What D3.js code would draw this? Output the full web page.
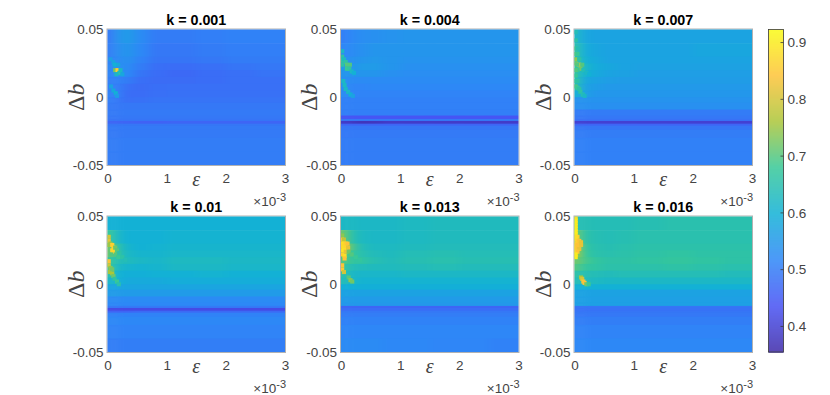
<!DOCTYPE html>
<html>
<head>
  <meta charset="utf-8">
  <title>Heatmaps over epsilon and delta b</title>
  <style>
    body { margin: 0; background: #fff; }
    text { font-family: "Liberation Sans", Arial, sans-serif; }
    .axis text { font-size: 13.5px; fill: #444; }
    .title { font-size: 14.3px; font-weight: bold; fill: #000; text-anchor: middle; }
    .mathtext { font-family: "Liberation Serif", serif; fill: #444; text-anchor: middle; }
    .expo { font-size: 13.5px; fill: #444; text-anchor: end; }
  </style>
</head>
<body>
  <script src="https://cdn.jsdelivr.net/npm/d3@7"></script>
  <script>
    // tick labels and panel names
    var kLabels = ["k = 0.001", "k = 0.004", "k = 0.007", "k = 0.01", "k = 0.013", "k = 0.016"];
    var epsTicks = [0, 1, 2, 3];
    var dbTicks = [-0.05, 0, 0.05];
    var dbTickLabels = ["-0.05", "0", "0.05"];
    var cbTicks = [0.4, 0.5, 0.6, 0.7, 0.8, 0.9];

    // colour range
    var cbDomain = [0.355, 0.923];
    var parula = ["#3e2aa8", "#4752f4", "#2e87f7", "#12b1d6", "#37c897", "#abc639", "#fec338", "#f9fb15"];

    // cell edges of the value grids (eps in units of 1e-3)
    var epsEdges = [0, 0.1, 0.25, 0.45, 0.7, 1, 1.5, 2, 2.5, 3];
    var dbEdges = [0.05, 0.04, 0.03, 0.025, 0.02, 0.015, 0.01, 0.005, 0, -0.004, -0.009, -0.0135, -0.016, -0.0175, -0.0195, -0.021, -0.024, -0.03, -0.04, -0.05];

    // background values, one line per db row, one value per eps column
    var grid001 = [
      [.495, .54, .555, .525, .50, .50, .505, .51, .51],
      [.50, .53, .545, .52, .495, .495, .50, .505, .505],
      [.505, .525, .535, .51, .49, .49, .495, .50, .50],
      [.515, .535, .525, .50, .48, .478, .482, .49, .495],
      [.51, .535, .52, .49, .478, .472, .478, .482, .488],
      [.505, .51, .50, .48, .476, .476, .478, .482, .482],
      [.505, .505, .482, .476, .48, .482, .482, .482, .482],
      [.51, .505, .478, .478, .482, .484, .484, .484, .484],
      [.505, .495, .482, .484, .488, .488, .488, .488, .488],
      [.498, .494, .494, .494, .494, .494, .494, .494, .494],
      [.498, .498, .498, .498, .498, .498, .498, .498, .498],
      [.494, .494, .494, .494, .494, .494, .494, .494, .494],
      [.49, .49, .49, .49, .49, .49, .49, .49, .49],
      [.465, .465, .465, .46, .46, .465, .465, .465, .465],
      [.492, .492, .492, .492, .492, .492, .492, .492, .492],
      [.498, .498, .498, .498, .498, .498, .498, .498, .498],
      [.498, .498, .498, .498, .498, .498, .498, .498, .498],
      [.502, .502, .502, .502, .502, .502, .502, .502, .502],
      [.502, .502, .502, .502, .502, .502, .502, .502, .502]
    ];
    var grid004 = [
      [.505, .52, .53, .535, .54, .545, .545, .545, .545],
      [.515, .525, .535, .545, .545, .545, .545, .545, .545],
      [.535, .535, .545, .55, .545, .54, .54, .54, .54],
      [.555, .545, .555, .555, .545, .535, .535, .535, .535],
      [.545, .545, .545, .545, .535, .53, .53, .53, .53],
      [.535, .525, .525, .525, .525, .525, .525, .525, .525],
      [.53, .515, .515, .52, .52, .52, .52, .52, .52],
      [.53, .515, .512, .512, .512, .512, .512, .512, .512],
      [.508, .508, .508, .508, .508, .508, .508, .508, .508],
      [.508, .508, .508, .508, .508, .508, .508, .508, .508],
      [.505, .505, .505, .505, .505, .505, .505, .505, .505],
      [.44, .44, .44, .44, .44, .44, .44, .44, .44],
      [.495, .495, .495, .495, .495, .495, .495, .495, .495],
      [.39, .385, .375, .38, .39, .39, .39, .39, .39],
      [.465, .465, .465, .465, .465, .465, .465, .465, .465],
      [.492, .492, .492, .492, .492, .492, .492, .492, .492],
      [.498, .498, .498, .498, .498, .498, .498, .498, .498],
      [.502, .502, .502, .502, .502, .502, .502, .502, .502],
      [.502, .502, .502, .502, .502, .502, .502, .502, .502]
    ];
    var grid007 = [
      [.62, .58, .572, .572, .572, .572, .572, .572, .572],
      [.65, .59, .578, .572, .572, .572, .572, .578, .578],
      [.66, .60, .585, .572, .572, .572, .572, .572, .572],
      [.67, .62, .59, .58, .572, .568, .568, .568, .568],
      [.66, .60, .585, .572, .568, .562, .562, .562, .562],
      [.65, .58, .57, .562, .558, .558, .558, .558, .558],
      [.64, .57, .56, .552, .552, .552, .552, .552, .552],
      [.60, .57, .548, .548, .548, .548, .548, .548, .548],
      [.54, .54, .54, .54, .54, .54, .54, .54, .54],
      [.535, .535, .535, .535, .535, .535, .535, .535, .535],
      [.50, .50, .50, .50, .50, .50, .50, .50, .50],
      [.495, .495, .495, .495, .495, .495, .495, .495, .495],
      [.485, .485, .485, .485, .485, .485, .485, .485, .485],
      [.40, .40, .40, .40, .40, .40, .40, .40, .40],
      [.465, .465, .465, .465, .465, .465, .465, .465, .465],
      [.492, .492, .492, .492, .492, .492, .492, .492, .492],
      [.502, .502, .502, .502, .502, .502, .502, .502, .502],
      [.508, .508, .508, .508, .508, .508, .508, .508, .508],
      [.508, .508, .508, .508, .508, .508, .508, .508, .508]
    ];
    var grid010 = [
      [.60, .60, .60, .60, .60, .60, .60, .60, .60],
      [.68, .62, .60, .60, .60, .605, .605, .605, .605],
      [.72, .66, .61, .60, .605, .61, .61, .61, .61],
      [.72, .66, .62, .61, .61, .615, .615, .615, .615],
      [.68, .64, .63, .62, .615, .625, .625, .62, .62],
      [.68, .62, .61, .605, .61, .62, .62, .615, .615],
      [.66, .60, .595, .595, .60, .60, .605, .60, .60],
      [.62, .60, .585, .585, .585, .59, .59, .59, .59],
      [.575, .575, .575, .575, .575, .575, .575, .575, .575],
      [.555, .555, .555, .555, .555, .555, .555, .555, .555],
      [.525, .525, .525, .525, .525, .525, .525, .525, .525],
      [.52, .52, .52, .52, .52, .52, .52, .52, .52],
      [.495, .495, .495, .495, .495, .495, .495, .495, .495],
      [.42, .42, .42, .42, .42, .42, .42, .42, .42],
      [.465, .465, .465, .475, .475, .475, .475, .475, .475],
      [.51, .51, .51, .51, .51, .51, .51, .51, .51],
      [.52, .52, .52, .52, .52, .52, .52, .52, .52],
      [.512, .512, .512, .512, .512, .512, .512, .512, .512],
      [.503, .503, .503, .503, .503, .503, .503, .503, .503]
    ];
    var grid013 = [
      [.62, .625, .62, .62, .62, .625, .63, .63, .63],
      [.72, .66, .625, .62, .62, .625, .63, .63, .63],
      [.78, .70, .64, .625, .625, .63, .635, .635, .635],
      [.70, .68, .65, .635, .63, .64, .645, .64, .64],
      [.70, .67, .665, .645, .635, .645, .65, .645, .645],
      [.67, .64, .635, .63, .63, .635, .64, .635, .635],
      [.66, .62, .615, .615, .615, .62, .62, .62, .62],
      [.64, .62, .605, .605, .605, .605, .605, .605, .605],
      [.595, .595, .595, .595, .595, .595, .595, .595, .595],
      [.57, .57, .57, .57, .57, .57, .57, .57, .57],
      [.555, .555, .555, .555, .555, .555, .555, .555, .555],
      [.55, .55, .55, .55, .55, .55, .55, .55, .55],
      [.465, .465, .465, .465, .465, .465, .465, .465, .465],
      [.478, .478, .478, .478, .478, .478, .478, .478, .478],
      [.495, .495, .495, .495, .495, .495, .495, .495, .495],
      [.502, .502, .502, .502, .502, .502, .502, .502, .502],
      [.51, .51, .51, .51, .51, .51, .51, .51, .51],
      [.518, .518, .518, .518, .518, .518, .518, .518, .518],
      [.525, .525, .525, .525, .52, .52, .515, .515, .51]
    ];
    var grid016 = [
      [.64, .645, .64, .64, .64, .645, .65, .65, .65],
      [.72, .66, .645, .64, .645, .65, .65, .65, .65],
      [.78, .67, .65, .645, .65, .655, .655, .655, .655],
      [.76, .68, .655, .65, .655, .66, .665, .66, .66],
      [.72, .69, .67, .66, .66, .665, .67, .665, .66],
      [.70, .67, .665, .655, .655, .655, .66, .655, .65],
      [.66, .645, .64, .635, .64, .64, .64, .64, .635],
      [.64, .635, .625, .62, .62, .62, .62, .62, .62],
      [.60, .60, .60, .60, .60, .60, .60, .60, .60],
      [.57, .57, .57, .57, .57, .57, .57, .57, .57],
      [.565, .565, .565, .565, .565, .565, .565, .565, .565],
      [.565, .565, .565, .565, .565, .565, .565, .565, .565],
      [.49, .49, .49, .49, .49, .49, .49, .49, .49],
      [.485, .485, .485, .485, .485, .485, .485, .485, .485],
      [.49, .49, .49, .49, .49, .49, .49, .49, .49],
      [.495, .495, .495, .495, .495, .495, .495, .495, .495],
      [.503, .503, .503, .503, .503, .503, .503, .503, .503],
      [.512, .512, .512, .512, .512, .512, .512, .512, .512],
      [.52, .52, .52, .52, .52, .52, .52, .52, .52]
    ];

    // single hot cells near eps = 0: [eps, db, value]
    var spots001 = [[.05, .028, .56], [.1, .026, .57], [.18, .024, .58], [.12, .024, .60], [.13, .02, .72], [.17, .02, .85], [.2, .018, .66], [.22, .02, .62], [.15, .017, .62], [.25, .017, .58], [.06, .008, .57], [.1, .005, .58], [.14, .003, .60], [.16, .001, .56]];
    var spots004 = [[.02, .034, .62], [.02, .03, .66], [.02, .027, .68], [.05, .028, .63], [.02, .024, .66], [.08, .026, .66], [.1, .024, .70], [.15, .024, .70], [.1, .021, .68], [.14, .021, .67], [.18, .019, .62], [.22, .018, .60], [.04, .012, .62], [.06, .009, .62], [.08, .006, .62], [.12, .004, .62], [.16, .002, .6], [.2, .001, .57]];
    var spots007 = [[.02, .048, .64], [.02, .042, .66], [.02, .036, .7], [.05, .036, .64], [.02, .032, .71], [.05, .032, .68], [.02, .028, .74], [.08, .028, .66], [.02, .025, .72], [.08, .024, .82], [.13, .024, .7], [.05, .024, .7], [.1, .021, .72], [.05, .02, .68], [.02, .02, .7], [.15, .02, .64], [.02, .016, .68], [.02, .012, .68], [.05, .012, .66], [.02, .008, .7], [.05, .007, .68], [.08, .006, .66], [.1, .004, .66], [.14, .002, .64], [.17, .001, .62], [.2, .018, .62], [.25, .017, .6]];
    var spots010 = [[.02, .035, .8], [.02, .032, .82], [.05, .03, .75], [.02, .029, .75], [.08, .029, .86], [.1, .027, .86], [.08, .025, .87], [.1, .024, .87], [.13, .027, .72], [.16, .025, .7], [.14, .022, .7], [.2, .023, .66], [.06, .022, .7], [.25, .02, .66], [.3, .018, .64], [.18, .02, .68], [.02, .017, .84], [.02, .014, .8], [.05, .012, .74], [.04, .009, .76], [.08, .008, .76], [.1, .006, .72], [.08, .011, .72], [.12, .004, .66], [.16, .002, .68], [.19, 0, .65]];
    var spots013 = [[.02, .036, .74], [.02, .033, .84], [.05, .033, .78], [.02, .03, .88], [.05, .03, .88], [.08, .03, .86], [.11, .03, .84], [.02, .028, .87], [.05, .027, .88], [.08, .027, .87], [.12, .027, .82], [.02, .025, .88], [.05, .025, .89], [.08, .024, .82], [.02, .022, .86], [.06, .021, .88], [.06, .019, .84], [.13, .024, .72], [.18, .022, .7], [.25, .02, .68], [.32, .018, .67], [.02, .014, .84], [.02, .011, .85], [.05, .009, .8], [.13, .005, .7], [.16, .003, .74], [.19, .002, .72]];
    var spots016 = [[.02, .049, .88], [.02, .047, .9], [.02, .045, .9], [.02, .043, .9], [.02, .041, .9], [.02, .039, .9], [.02, .037, .9], [.05, .035, .86], [.02, .035, .88], [.02, .033, .88], [.05, .032, .86], [.08, .032, .84], [.11, .031, .82], [.02, .03, .86], [.05, .029, .84], [.08, .029, .84], [.11, .029, .82], [.02, .027, .87], [.05, .027, .84], [.08, .026, .82], [.02, .024, .88], [.05, .024, .84], [.02, .022, .9], [.02, .02, .9], [.11, .005, .76], [.13, .004, .8], [.15, .002, .84], [.17, .001, .84], [.2, 0, .72], [.24, 0, .68]];

    var grids = [grid001, grid004, grid007, grid010, grid013, grid016];
    var spots = [spots001, spots004, spots007, spots010, spots013, spots016];

    // layout of the figure
    var w = 830, h = 395;
    var panelW = 177.5, panelH = 135.5;
    var panelX = [107.5, 341, 574.5];
    var panelY = [29.5, 216.5];
    var spotW = 0.07, spotH = 0.003;

    // evenly spread stops of the colormap over the colorbar range
    var color = d3.scaleLinear()
      .domain(parula.map(function(d, i) { return cbDomain[0] + (cbDomain[1] - cbDomain[0]) * i / (parula.length - 1); }))
      .range(parula)
      .clamp(true);

    var svg = d3.select("body").append("svg").attr("width", w).attr("height", h);
    var defs = svg.append("defs");

    // soften the blocky cells, mostly along eps
    defs.append("filter").attr("id", "soft").attr("color-interpolation-filters", "sRGB")
      .append("feGaussianBlur").attr("stdDeviation", "5 0.45");
    defs.append("filter").attr("id", "softSpot").attr("color-interpolation-filters", "sRGB")
      .attr("x", "-20%").attr("y", "-20%").attr("width", "140%").attr("height", "140%")
      .append("feGaussianBlur").attr("stdDeviation", "0.75");

    kLabels.forEach(function(label, idx) {
      var px = panelX[idx % 3], py = panelY[Math.floor(idx / 3)];
      var x = d3.scaleLinear().domain([0, 3]).range([0, panelW]);
      var y = d3.scaleLinear().domain([-0.05, 0.05]).range([panelH, 0]);

      var g = svg.append("g").attr("transform", "translate(" + px + "," + py + ")");

      // faint box, mostly hidden by the image
      g.append("rect").attr("x", -0.5).attr("y", -0.5).attr("width", panelW + 1).attr("height", panelH + 1)
        .attr("fill", "none").attr("stroke", "#b2b2b2").attr("stroke-width", 1);

      defs.append("clipPath").attr("id", "clip" + idx)
        .append("rect").attr("width", panelW).attr("height", panelH);

      var image = g.append("g").attr("clip-path", "url(#clip" + idx + ")");
      var cells = image.append("g").attr("filter", "url(#soft)");

      // outer cells run past the plot so the blur has no transparent edge,
      // each row also runs under the next one so no seam shows between them
      var pad = 18;
      grids[idx].forEach(function(row, r) {
        cells.selectAll(null)
          .data(row)
          .enter()
          .append("rect")
          .attr("x", function(d, c) { return x(epsEdges[c]) - (c == 0 ? pad : 0); })
          .attr("y", y(dbEdges[r]) - (r == 0 ? pad : 0))
          .attr("width", function(d, c) { return x(epsEdges[c + 1]) - x(epsEdges[c]) + (c == 0 || c == row.length - 1 ? pad : 1); })
          .attr("height", y(dbEdges[r + 1]) - y(dbEdges[r]) + (r == 0 || r == grids[idx].length - 1 ? pad : 1.5))
          .attr("fill", function(d) { return color(d); });
      });

      image.append("g").attr("filter", "url(#softSpot)")
        .selectAll("rect")
        .data(spots[idx])
        .enter()
        .append("rect")
        .attr("x", function(d) { return x(d[0] - spotW / 2); })
        .attr("y", function(d) { return y(d[1] + spotH / 2); })
        .attr("width", x(spotW))
        .attr("height", y(0) - y(spotH))
        .attr("fill", function(d) { return color(d[2]); });

      // axes, ticks sit inside and are covered by the image
      var xAxis = d3.axisBottom(x).tickValues(epsTicks).tickSize(0).tickPadding(8).tickFormat(d3.format("d"));
      var yAxis = d3.axisLeft(y).tickValues(dbTicks).tickSize(0).tickPadding(4)
        .tickFormat(function(d, i) { return dbTickLabels[i]; });

      g.append("g").attr("class", "axis").attr("transform", "translate(0," + panelH + ")").call(xAxis)
        .call(function(s) { s.select(".domain").remove(); })
        .selectAll("text").attr("font-family", null).style("font-family", "'Liberation Sans'");
      g.append("g").attr("class", "axis").call(yAxis)
        .call(function(s) { s.select(".domain").remove(); })
        .selectAll("text").attr("font-family", null).style("font-family", "'Liberation Sans'");

      // panel title
      g.append("text").attr("class", "title").attr("x", panelW / 2).attr("y", -4.5).text(label);

      // axis names
      g.append("text").attr("class", "mathtext").attr("x", panelW / 2).attr("y", panelH + 21)
        .style("font-size", "20px").style("font-style", "italic").text("ε");
      var yName = g.append("text").attr("class", "mathtext")
        .attr("transform", "translate(-24," + (panelH / 2) + ") rotate(-90)")
        .style("font-size", "24px");
      yName.append("tspan").text("Δ");
      yName.append("tspan").style("font-style", "italic").text("b");

      // x exponent below the right end of the axis
      var expo = g.append("text").attr("class", "expo").attr("x", panelW + 1).attr("y", panelH + 40.5);
      expo.append("tspan").text("×10");
      expo.append("tspan").attr("dy", -5).style("font-size", "11px").text("-3");
    });

    // colorbar
    var cbX = 768.5, cbW = 15, cbY = panelY[0], cbH = panelY[1] + panelH - panelY[0];
    var cbScale = d3.scaleLinear().domain(cbDomain).range([cbH, 0]);
    var cb = svg.append("g").attr("transform", "translate(" + cbX + "," + cbY + ")");

    cb.selectAll("rect")
      .data(d3.range(0, cbH))
      .enter()
      .append("rect")
      .attr("x", 0)
      .attr("y", function(d) { return d; })
      .attr("width", cbW)
      .attr("height", 1.2)
      .attr("fill", function(d) { return color(cbScale.invert(d + 0.5)); });

    cb.append("rect").attr("width", cbW).attr("height", cbH)
      .attr("fill", "none").attr("stroke", "#3a3a3a").attr("stroke-width", 0.8);

    var cbAxis = d3.axisRight(cbScale).tickValues(cbTicks).tickSize(0).tickPadding(4).tickFormat(d3.format(".1f"));
    cb.append("g").attr("class", "axis").attr("transform", "translate(" + cbW + ",0)").call(cbAxis)
      .call(function(s) { s.select(".domain").remove(); })
      .selectAll("text").attr("font-family", null).style("font-family", "'Liberation Sans'");

    // short inner ticks of the colorbar
    cb.selectAll("line.tick")
      .data(cbTicks)
      .enter()
      .append("line")
      .attr("class", "tick")
      .attr("x1", cbW - 3)
      .attr("x2", cbW)
      .attr("y1", function(d) { return cbScale(d); })
      .attr("y2", function(d) { return cbScale(d); })
      .attr("stroke", "#3a3a3a")
      .attr("stroke-width", 0.8);
  </script>
</body>
</html>
